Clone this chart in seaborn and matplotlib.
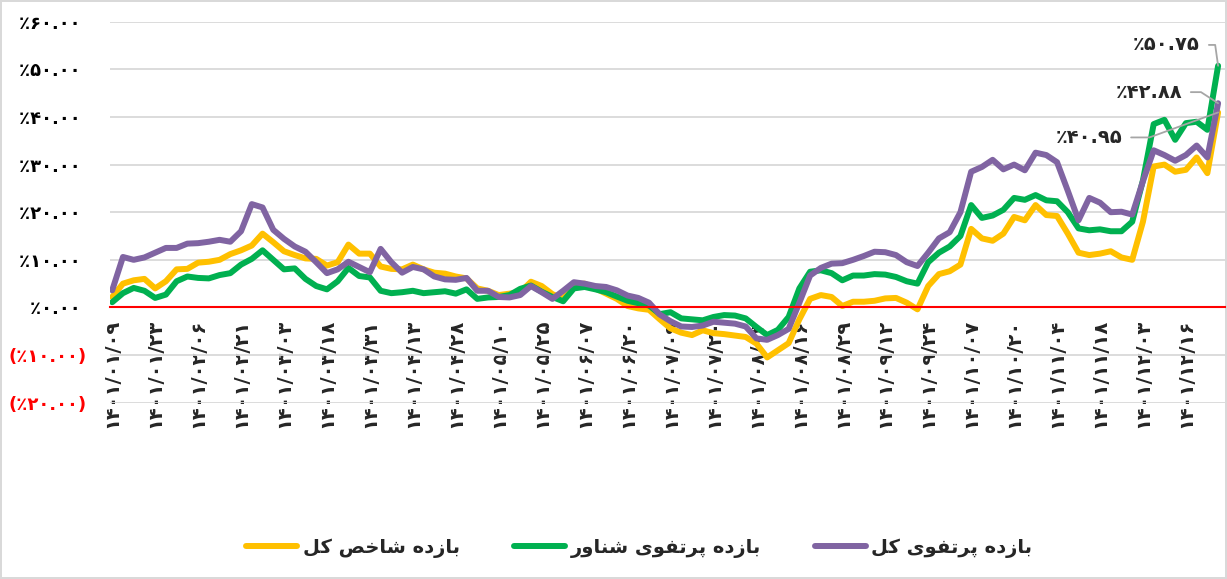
import pandas as pd
import seaborn as sns
import matplotlib.pyplot as plt


# --------------------------------------------------
# data (%)
# --------------------------------------------------

tick_dates = [
    "۱۴۰۱/۰۱/۰۹", "۱۴۰۱/۰۱/۲۳", "۱۴۰۱/۰۲/۰۶", "۱۴۰۱/۰۲/۲۱", "۱۴۰۱/۰۳/۰۳",
    "۱۴۰۱/۰۳/۱۸", "۱۴۰۱/۰۳/۳۱", "۱۴۰۱/۰۴/۱۳", "۱۴۰۱/۰۴/۲۸", "۱۴۰۱/۰۵/۱۰",
    "۱۴۰۱/۰۵/۲۵", "۱۴۰۱/۰۶/۰۷", "۱۴۰۱/۰۶/۲۰", "۱۴۰۱/۰۷/۰۹", "۱۴۰۱/۰۷/۲۰",
    "۱۴۰۱/۰۸/۰۳", "۱۴۰۱/۰۸/۱۶", "۱۴۰۱/۰۸/۲۹", "۱۴۰۱/۰۹/۱۲", "۱۴۰۱/۰۹/۲۴",
    "۱۴۰۱/۱۰/۰۷", "۱۴۰۱/۱۰/۲۰", "۱۴۰۱/۱۱/۰۴", "۱۴۰۱/۱۱/۱۸", "۱۴۰۱/۱۲/۰۳",
    "۱۴۰۱/۱۲/۱۶",
]

index_ret = [
    2.2, 5.0, 5.7, 6.0, 4.0, 5.5, 8.0, 8.1, 9.4, 9.6,
    10.0, 11.2, 12.0, 13.0, 15.5, 13.7, 11.8, 11.0, 10.3, 10.2,
    8.8, 9.5, 13.2, 11.3, 11.3, 8.6, 8.1, 8.0, 9.0, 8.0,
    7.3, 7.1, 6.5, 6.1, 4.0, 3.5, 2.6, 2.9, 3.2, 5.4,
    4.5, 2.8, 1.8, 4.8, 5.0, 4.0, 2.9, 1.8, 0.3, -0.2,
    -0.5, -2.5, -4.4, -5.3, -5.8, -4.8, -5.4, -5.6, -5.9, -6.2,
    -7.6, -10.5, -9.0, -7.5, -2.5, 1.8, 2.6, 2.2, 0.3, 1.2,
    1.2, 1.4, 1.9, 2.0, 1.0, -0.4, 4.5, 7.0, 7.6, 9.0,
    16.5, 14.5, 14.0, 15.5, 19.0, 18.3, 21.5, 19.4, 19.2, 15.5,
    11.5, 11.0, 11.3, 11.8, 10.5, 10.0, 18.0, 29.6, 30.0, 28.5,
    28.9, 31.5, 28.2, 40.95,
]

float_ret = [
    1.1, 3.0, 4.1, 3.5, 2.0, 2.7, 5.5, 6.5, 6.2, 6.1,
    6.8, 7.2, 9.0, 10.2, 12.0, 10.0, 8.0, 8.2, 6.0, 4.5,
    3.8, 5.5, 8.3, 6.6, 6.3, 3.5, 3.0, 3.2, 3.5, 3.0,
    3.2, 3.4, 2.9, 3.8, 1.8, 2.1, 2.2, 2.6, 3.9, 4.6,
    3.3, 2.2, 1.3, 4.0, 4.3, 3.8, 3.2, 2.3, 1.4, 0.9,
    0.4, -1.4, -1.0, -2.3, -2.5, -2.7, -2.0, -1.6, -1.7, -2.3,
    -4.1, -5.8, -4.7, -2.0, 4.0, 7.5, 7.8, 7.2, 5.7, 6.7,
    6.7, 7.0, 6.9, 6.4, 5.5, 5.0, 9.5, 11.5, 12.8, 15.0,
    21.5, 18.8, 19.3, 20.5, 23.0, 22.6, 23.6, 22.5, 22.3, 20.0,
    16.6, 16.2, 16.4, 16.0, 16.0, 18.0, 26.7, 38.5, 39.4, 35.2,
    38.7, 39.0, 37.3, 50.75,
]

total_ret = [
    3.6, 10.6, 10.0, 10.5, 11.5, 12.5, 12.5, 13.4, 13.5, 13.8,
    14.2, 13.8, 16.0, 21.7, 21.0, 16.3, 14.4, 12.8, 11.7, 9.5,
    7.2, 8.0, 9.6, 8.5, 7.4, 12.3, 9.5, 7.3, 8.5, 8.0,
    6.5, 5.9, 5.8, 6.2, 3.5, 3.5, 2.2, 2.1, 2.6, 4.5,
    3.2, 1.8, 3.5, 5.3, 5.0, 4.5, 4.3, 3.6, 2.5, 2.0,
    1.0, -1.5, -2.9, -4.0, -4.1, -3.8, -3.0, -3.2, -3.4, -4.0,
    -6.5, -6.8, -5.8, -4.5, 1.0, 6.7, 8.3, 9.2, 9.3, 10.0,
    10.8, 11.7, 11.6, 11.0, 9.5, 8.7, 11.5, 14.5, 15.8, 20.0,
    28.5, 29.5, 31.0, 29.0, 30.0, 28.8, 32.5, 32.0, 30.5, 24.5,
    18.3, 23.0, 22.0, 20.0, 20.1, 19.5, 26.5, 33.0, 32.0, 30.8,
    32.0, 34.0, 31.5, 42.88,
]

series_names = ["بازده شاخص کل", "بازده پرتفوی شناور", "بازده پرتفوی کل"]
series_colors = ["#FFC000", "#00B050", "#8064A2"]
y_ticks = [-20, -10, 0, 10, 20, 30, 40, 50, 60]
tick_step = 4


# --------------------------------------------------
# persian helpers (matplotlib does no arabic shaping)
# --------------------------------------------------

FA_DIGITS = str.maketrans("0123456789", "۰۱۲۳۴۵۶۷۸۹")

DUAL = set("بپتثجچحخسشصضطظعغفقکگلمنهی")
RIGHT = set("اآدذرزژو")
FORMS = {
    "ا": ("\uFE8D", "\uFE8E", None, None),
    "ب": ("\uFE8F", "\uFE90", "\uFE91", "\uFE92"),
    "پ": ("\uFB56", "\uFB57", "\uFB58", "\uFB59"),
    "ت": ("\uFE95", "\uFE96", "\uFE97", "\uFE98"),
    "خ": ("\uFEA5", "\uFEA6", "\uFEA7", "\uFEA8"),
    "د": ("\uFEA9", "\uFEAA", None, None),
    "ر": ("\uFEAD", "\uFEAE", None, None),
    "ز": ("\uFEAF", "\uFEB0", None, None),
    "ش": ("\uFEB5", "\uFEB6", "\uFEB7", "\uFEB8"),
    "ص": ("\uFEB9", "\uFEBA", "\uFEBB", "\uFEBC"),
    "ف": ("\uFED1", "\uFED2", "\uFED3", "\uFED4"),
    "ک": ("\uFB8E", "\uFB8F", "\uFB90", "\uFB91"),
    "ل": ("\uFEDD", "\uFEDE", "\uFEDF", "\uFEE0"),
    "ن": ("\uFEE5", "\uFEE6", "\uFEE7", "\uFEE8"),
    "ه": ("\uFEE9", "\uFEEA", "\uFEEB", "\uFEEC"),
    "و": ("\uFEED", "\uFEEE", None, None),
    "ی": ("\uFBFC", "\uFBFD", "\uFBFE", "\uFBFF"),
}


def shape(text):
    out = []
    for k, ch in enumerate(text):
        if ch not in FORMS:
            out.append(ch)
            continue
        prev = text[k - 1] if k > 0 else ""
        nxt = text[k + 1] if k + 1 < len(text) else ""
        join_prev = prev in DUAL
        join_next = ch in DUAL and (nxt in DUAL or nxt in RIGHT)
        iso, fin, ini, med = FORMS[ch]
        if join_prev and join_next:
            out.append(med)
        elif join_prev:
            out.append(fin)
        elif join_next:
            out.append(ini)
        else:
            out.append(iso)
    return "".join(reversed(out))


def pct(v):
    s = "٪" + f"{abs(v):.2f}".translate(FA_DIGITS)
    return f"({s})" if v < 0 else s


# --------------------------------------------------
# long-form table for seaborn
# --------------------------------------------------

n = len(index_ret)
df = pd.concat([
    pd.DataFrame({"day": range(n), "value": vals, "series": name})
    for name, vals in zip(series_names, [index_ret, float_ret, total_ret])
])


# --------------------------------------------------
# plot
# --------------------------------------------------

sns.set_theme(style="white")
plt.rcParams["font.family"] = ["DejaVu Sans"]
plt.rcParams["font.weight"] = "bold"

fig = plt.figure(figsize=(12.27, 5.79), dpi=100)
fig.patch.set_edgecolor("#d9d9d9")
fig.patch.set_linewidth(1.5)
ax = fig.add_axes([0.0897, 0.3045, 0.9083, 0.658])

sns.lineplot(
    data=df, x="day", y="value", hue="series",
    hue_order=series_names, palette=series_colors,
    linewidth=4.3, legend=False, ax=ax,
)
for line in ax.lines:
    line.set_solid_joinstyle("round")
    line.set_solid_capstyle("round")

# spine first: moving it resets the tick labels
for side in ["left", "right", "top"]:
    ax.spines[side].set_visible(False)
ax.spines["bottom"].set_position(("data", 0))
ax.spines["bottom"].set_color("red")
ax.spines["bottom"].set_linewidth(1.5)

ax.set_xlim(-0.2, n - 0.4)
ax.set_ylim(-20, 60)
ax.set_yticks(y_ticks)
# positive labels keep a trailing space where the ")" of negatives sits
ax.set_yticklabels([pct(v) if v < 0 else pct(v) + " " for v in y_ticks],
                   fontsize=13, fontweight="bold")
for lab, v in zip(ax.get_yticklabels(), y_ticks):
    lab.set_color("red" if v < 0 else "black")

ax.set_xticks(range(0, n, tick_step))
ax.set_xticklabels(tick_dates, fontsize=14, fontweight="bold")
ax.tick_params(axis="x", length=0, pad=8, labelrotation=90)
ax.tick_params(axis="y", length=0, pad=17)

ax.grid(axis="y", color="#d9d9d9", linewidth=1.3)
ax.set_axisbelow(True)
ax.set_xlabel("")
ax.set_ylabel("")

# end-value callouts
callouts = [
    (float_ret[-1], (-13, 15), -82),
    (total_ret[-1], (-26, 8), -33),
    (index_ret[-1], (-69, -18), 20),
]
for val, off, ang in callouts:
    ax.annotate(
        pct(val), xy=(n - 1, val), xytext=off, textcoords="offset points",
        ha="right", va="center", fontsize=14, fontweight="bold",
        arrowprops=dict(arrowstyle="-", color="#a6a6a6", lw=1.3,
                        shrinkA=4, shrinkB=0,
                        connectionstyle=f"angle,angleA=0,angleB={ang},rad=0"),
    )

handles = ax.lines[:3]
ax.legend(
    handles, [shape(s) for s in series_names],
    loc="center", bbox_to_anchor=(0.521, 1 - 548 / 579),
    bbox_transform=fig.transFigure,
    ncol=3, frameon=False, handlelength=2.6, columnspacing=2.8,
    handletextpad=0.3, prop={"weight": "bold", "size": 14},
)

fig.savefig("out.png", dpi=100, facecolor="white")
